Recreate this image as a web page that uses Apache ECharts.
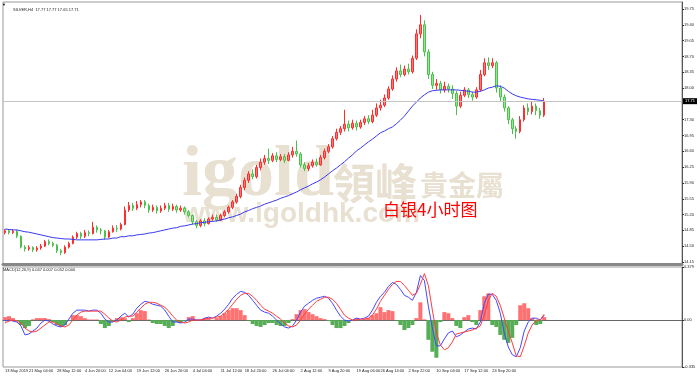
<!DOCTYPE html>
<html>
<head>
<meta charset="utf-8">
<script src="https://cdn.jsdelivr.net/npm/echarts@6/dist/echarts.min.js"></script>
<style>
html, body { margin: 0; padding: 0; background: #fff; }
#chart { width: 700px; height: 378px; }
</style>
</head>
<body>
<div id="chart"></div>
<script>
// K线: [开, 收, 低, 高]
const candles = [
  [14.80,14.84,14.76,14.88],[14.84,14.80,14.76,14.87],[14.80,14.83,14.77,14.88],[14.83,14.72,14.68,14.86],
  [14.72,14.48,14.45,14.74],[14.48,14.44,14.38,14.52],[14.44,14.47,14.40,14.52],[14.47,14.42,14.37,14.50],
  [14.42,14.46,14.38,14.50],[14.46,14.50,14.42,14.55],[14.50,14.60,14.48,14.64],[14.60,14.56,14.52,14.65],
  [14.56,14.52,14.48,14.60],[14.52,14.40,14.35,14.55],[14.40,14.36,14.30,14.44],[14.36,14.48,14.33,14.52],
  [14.48,14.56,14.45,14.60],[14.56,14.70,14.54,14.74],[14.70,14.78,14.66,14.82],[14.78,14.72,14.66,14.82],
  [14.72,14.80,14.68,14.86],[14.80,14.78,14.72,14.85],[14.78,14.92,14.76,15.04],[14.92,14.86,14.80,14.96],
  [14.86,14.84,14.76,14.90],[14.84,14.70,14.64,14.86],[14.70,14.82,14.68,14.86],[14.82,14.90,14.80,14.96],
  [14.90,14.88,14.82,14.97],[14.88,14.98,14.85,15.02],[14.98,15.30,14.96,15.38],[15.30,15.40,15.26,15.48],
  [15.40,15.34,15.28,15.46],[15.34,15.42,15.30,15.50],[15.42,15.48,15.36,15.52],[15.48,15.40,15.34,15.52],
  [15.40,15.30,15.24,15.44],[15.30,15.36,15.26,15.42],[15.36,15.28,15.22,15.40],[15.28,15.34,15.24,15.40],
  [15.34,15.40,15.30,15.46],[15.40,15.32,15.26,15.46],[15.32,15.38,15.28,15.44],[15.38,15.30,15.24,15.42],
  [15.30,15.34,15.26,15.40],[15.34,15.26,15.20,15.38],[15.26,15.18,15.14,15.30],[15.18,15.04,14.98,15.20],
  [15.04,14.96,14.90,15.08],[14.96,15.06,14.92,15.10],[15.06,15.00,14.94,15.12],[15.00,15.10,14.98,15.14],
  [15.10,15.14,15.06,15.20],[15.14,15.08,15.04,15.20],[15.08,15.18,15.06,15.22],[15.18,15.26,15.14,15.30],
  [15.26,15.36,15.22,15.40],[15.36,15.48,15.32,15.52],[15.48,15.60,15.44,15.66],[15.60,15.80,15.56,15.86],
  [15.80,15.96,15.74,16.02],[15.96,16.10,15.90,16.16],[16.10,16.04,15.98,16.20],[16.04,16.24,16.00,16.30],
  [16.24,16.36,16.18,16.44],[16.36,16.44,16.30,16.52],[16.44,16.40,16.32,16.66],[16.40,16.50,16.36,16.56],
  [16.50,16.42,16.36,16.58],[16.42,16.48,16.38,16.54],[16.48,16.40,16.34,16.54],[16.40,16.52,16.38,16.58],
  [16.52,16.60,16.46,16.70],[16.60,16.54,16.48,16.84],[16.54,16.30,16.24,16.58],[16.30,16.22,16.16,16.36],
  [16.22,16.28,16.16,16.34],[16.28,16.36,16.24,16.42],[16.36,16.30,16.26,16.44],[16.30,16.46,16.28,16.52],
  [16.46,16.60,16.42,16.66],[16.60,16.70,16.56,16.76],[16.70,16.88,16.66,16.94],[16.88,17.02,16.84,17.10],
  [17.02,17.10,16.96,17.16],[17.10,17.20,17.04,17.52],[17.20,17.12,17.04,17.28],[17.12,17.22,17.08,17.30],
  [17.22,17.14,17.06,17.28],[17.14,17.24,17.10,17.30],[17.24,17.32,17.18,17.38],[17.32,17.26,17.20,17.40],
  [17.26,17.40,17.22,17.52],[17.40,17.56,17.36,17.66],[17.56,17.62,17.50,17.74],[17.62,17.78,17.58,17.86],
  [17.78,17.98,17.74,18.04],[17.98,18.20,17.94,18.28],[18.20,18.38,18.14,18.46],[18.38,18.30,18.24,18.52],
  [18.30,18.42,18.26,18.50],[18.42,18.36,18.30,18.54],[18.36,18.66,18.32,18.72],[18.66,19.20,18.62,19.30],
  [19.20,19.40,19.10,19.62],[19.40,18.80,18.70,19.50],[18.80,18.30,18.20,18.86],[18.30,18.06,17.98,18.36],
  [18.06,18.10,17.96,18.20],[18.10,17.96,17.88,18.16],[17.96,18.04,17.90,18.14],[18.04,17.98,17.90,18.10],
  [17.98,17.88,17.76,18.06],[17.88,17.60,17.40,17.94],[17.60,17.84,17.56,17.92],[17.84,17.96,17.80,18.02],
  [17.96,17.86,17.78,18.00],[17.86,17.80,17.72,17.92],[17.80,17.96,17.76,18.02],[17.96,18.30,17.92,18.40],
  [18.30,18.56,18.26,18.66],[18.56,18.50,18.40,18.68],[18.50,18.56,18.44,18.66],[18.56,18.00,17.90,18.60],
  [18.00,17.80,17.70,18.06],[17.80,17.56,17.48,17.86],[17.56,17.30,17.20,17.60],[17.30,17.10,16.98,17.34],
  [17.10,17.04,16.88,17.16],[17.04,17.30,17.00,17.38],[17.30,17.56,17.26,17.62],[17.56,17.48,17.40,17.66],
  [17.48,17.60,17.42,17.70],[17.60,17.50,17.40,17.66],[17.50,17.40,17.32,17.56],[17.40,17.71,17.36,17.78]
];

// 均线
const maLine = [
  14.88,14.87,14.86,14.86,14.84,14.82,14.81,14.79,14.77,14.75,14.73,14.71,14.69,14.68,14.67,14.66,
  14.66,14.65,14.64,14.64,14.64,14.64,14.64,14.64,14.65,14.66,14.66,14.68,14.68,14.71,14.71,14.73,
  14.73,14.75,14.76,14.77,14.79,14.80,14.82,14.84,14.86,14.88,14.90,14.91,14.94,14.95,14.97,14.99,
  15.00,15.02,15.03,15.04,15.05,15.06,15.08,15.10,15.13,15.15,15.18,15.21,15.26,15.29,15.33,15.36,
  15.39,15.43,15.46,15.49,15.52,15.56,15.59,15.62,15.66,15.70,15.75,15.79,15.83,15.88,15.92,15.97,
  16.03,16.10,16.17,16.23,16.30,16.37,16.45,16.52,16.61,16.67,16.74,16.81,16.87,16.94,17.01,17.05,
  17.10,17.14,17.21,17.29,17.38,17.49,17.60,17.69,17.78,17.85,17.91,17.94,17.95,17.96,17.96,17.96,
  17.96,17.96,17.95,17.94,17.93,17.91,17.91,17.93,17.96,18.00,18.02,18.05,18.04,18.00,17.93,17.87,
  17.83,17.80,17.78,17.76,17.75,17.74,17.73,17.71
];

// MACD 蓝线
const difLine = [
  -0.007,0,-0.007,-0.014,-0.042,-0.106,-0.099,-0.078,-0.057,-0.021,0,-0.007,-0.028,-0.042,-0.049,-0.035,
  0.007,0.049,0.071,0.071,0.071,0.064,0.071,0.071,0.049,0.007,-0.014,-0.014,0,0.028,0.049,0.021,
  0.042,0.085,0.113,0.134,0.127,0.113,0.106,0.099,0.071,0.028,-0.014,-0.014,-0.021,-0.014,0.007,0.007,
  0,0,0.014,0.021,0.014,0.028,0.049,0.078,0.113,0.156,0.184,0.205,0.198,0.177,0.141,0.106,
  0.071,0.057,0.049,0.028,0,-0.028,-0.049,-0.057,-0.042,0,0.057,0.099,0.120,0.141,0.156,0.163,
  0.170,0.156,0.120,0.071,0.028,0,-0.007,0,0.014,0.007,0.014,0.028,0.071,0.127,0.170,0.198,
  0.240,0.269,0.255,0.219,0.177,0.163,0.141,0.198,0.318,0.283,0.099,-0.057,-0.184,-0.184,-0.134,-0.092,
  -0.078,-0.120,-0.106,-0.085,-0.064,-0.057,-0.064,-0.014,0.120,0.184,0.184,0.141,0.049,-0.092,-0.191,-0.247,
  -0.262,-0.198,-0.078,-0.014,0.014,0.014,0,0.035
];

// MACD 红线
const deaLine = [
  -0.021,-0.007,0,-0.007,-0.021,-0.057,-0.078,-0.085,-0.078,-0.057,-0.035,-0.014,-0.014,-0.028,-0.042,-0.049,
  -0.035,0,0.035,0.057,0.064,0.064,0.064,0.064,0.064,0.042,0.014,-0.007,-0.014,0,0.021,0.028,
  0.028,0.057,0.085,0.113,0.127,0.127,0.120,0.106,0.092,0.064,0.028,0,-0.014,-0.021,-0.014,0,
  0,0,0.007,0.014,0.014,0.021,0.028,0.049,0.078,0.113,0.148,0.177,0.191,0.191,0.170,0.141,
  0.106,0.078,0.064,0.049,0.028,0.007,-0.021,-0.042,-0.049,-0.035,0,0.042,0.078,0.106,0.134,0.148,
  0.163,0.163,0.148,0.120,0.078,0.035,0.014,0,0,0.007,0.007,0.014,0.035,0.078,0.134,0.177,
  0.219,0.255,0.276,0.276,0.247,0.212,0.177,0.191,0.255,0.332,0.247,0.071,-0.092,-0.177,-0.212,-0.198,
  -0.156,-0.099,-0.092,-0.085,-0.078,-0.071,-0.057,-0.042,0.035,0.141,0.191,0.170,0.106,0.014,-0.078,-0.163,
  -0.255,-0.262,-0.184,-0.092,-0.035,0,0,0.042
];

// MACD 柱
const macdHist = [
  0.021,0.028,0.014,-0.007,-0.035,-0.057,-0.042,0.005,0.014,0.014,0.014,0.007,-0.014,-0.035,-0.049,-0.035,
  -0.004,0.035,0.035,0.028,0.014,0.004,0.004,0.004,-0.028,-0.057,-0.042,-0.014,0.014,0.021,0.014,-0.014,
  0.014,0.049,0.071,0.064,0.004,-0.021,-0.028,-0.028,-0.042,-0.057,-0.042,-0.014,-0.021,-0.007,0.021,0.028,
  0.004,0.004,0.014,0.014,0.002,0.014,0.028,0.049,0.071,0.085,0.085,0.071,0.035,-0.004,-0.028,-0.042,
  -0.049,-0.035,-0.021,-0.021,-0.035,-0.042,-0.042,-0.021,0.007,0.042,0.071,0.078,0.057,0.042,0.028,0.014,
  0.007,-0.007,-0.035,-0.057,-0.057,-0.042,-0.021,0.002,0.014,-0.002,0.007,0.014,0.035,0.049,0.092,0.057,
  0.071,0.064,-0.003,-0.035,-0.071,-0.057,-0.035,0.014,0.127,0.005,-0.141,-0.226,-0.269,-0.014,0.057,0.049,
  0.014,-0.042,-0.057,0.021,0.035,-0.014,-0.035,0.071,0.170,0.191,-0.035,-0.049,-0.106,-0.141,-0.163,-0.127,
  -0.035,0.106,0.120,0.085,0.014,-0.035,-0.028,0.021
];

const timeLabels = ['13 May 2019','21 May 04:00','28 May 12:00','4 Jun 20:00','12 Jun 04:00','19 Jun 12:00',
  '26 Jun 20:00','4 Jul 04:00','11 Jul 12:00','18 Jul 20:00','26 Jul 04:00','2 Aug 12:00','9 Aug 20:00',
  '19 Aug 06:00','26 Aug 14:00','2 Sep 22:00','10 Sep 04:00','17 Sep 12:00','24 Sep 20:00','2 Oct 04:00'];
const labelIdx = [0,6,13,20,26,33,40,47,54,60,67,74,81,88,94,101,108,115,122,129];
const priceTicks = [19.75,19.40,19.05,18.70,18.35,18.00,17.30,16.95,16.60,16.25,15.90,15.55,15.20,14.85,14.50,14.15];
const macdTicks = [0.379, 0, -0.335];
const lastPrice = 17.71;
const totalBars = 170;

const categories = [];
for (let i = 0; i < totalBars; i++) {
  const k = labelIdx.indexOf(i);
  categories.push(k >= 0 ? timeLabels[k] : '');
}

const smallFont = { fontSize: 4, fontFamily: 'Liberation Sans', color: '#222' };

const chart = echarts.init(document.getElementById('chart'));
chart.setOption({
  animation: false,
  backgroundColor: '#fff',
  title: {
    text: 'SILVER,H4  17.77 17.77 17.65 17.71',
    left: 8, top: 3,
    textStyle: { fontSize: 4, fontWeight: 'normal', fontFamily: 'Liberation Sans', color: '#222' }
  },
  graphic: [
    { type: 'text', x: 2, y: 3, style: { text: '▼', fontSize: 4, fill: '#000' } },
    { type: 'text', x: 3, y: 268, style: { text: 'MACD(12,26,9) 0.047 0.007 0.052 0.000', fontSize: 4, fontFamily: 'Liberation Sans', fill: '#222' } },
    { type: 'text', x: 182, y: 176, z: 0, style: { text: 'igold', font: 'bold 72px "Liberation Serif"', fill: '#e8e0d0', verticalAlign: 'middle' } },
    { type: 'text', x: 333, y: 183, z: 0, style: { text: '領峰', font: 'bold 42px "Noto Sans CJK TC"', fill: '#e8e0d0', verticalAlign: 'middle' } },
    { type: 'text', x: 420, y: 185, z: 0, style: { text: '貴金屬', font: 'bold 28px "Noto Sans CJK TC"', fill: '#e8e0d0', verticalAlign: 'middle' } },
    { type: 'text', x: 183, y: 214, z: 0, style: { text: 'www.igoldhk.com', font: 'bold 28px "Liberation Sans"', fill: '#e8e0d0', verticalAlign: 'middle' } },
    { type: 'text', x: 383, y: 210, z: 100, style: { text: '白银4小时图', font: '17px "Noto Sans CJK SC"', fill: '#ff0000', verticalAlign: 'middle' } }
  ],
  grid: [
    { left: 3, right: 18, top: 2, height: 262, show: true, borderColor: '#999', borderWidth: 1 },
    { left: 3, right: 18, top: 267, bottom: 11, show: true, borderColor: '#999', borderWidth: 1 }
  ],
  xAxis: [
    {
      type: 'category', gridIndex: 0, data: categories,
      axisLine: { lineStyle: { color: '#888', width: 3 } },
      axisTick: { show: false }, axisLabel: { show: false }
    },
    {
      type: 'category', gridIndex: 1, data: categories,
      axisLine: { lineStyle: { color: '#666', width: 1 } },
      axisTick: { length: 2, lineStyle: { color: '#333' }, interval: (i) => labelIdx.includes(i) },
      axisLabel: Object.assign({
        interval: (i) => labelIdx.includes(i), align: 'left', margin: 2,
        showMinLabel: true, showMaxLabel: false, hideOverlap: false
      }, smallFont)
    }
  ],
  yAxis: [
    {
      type: 'value', gridIndex: 0, position: 'right', min: 14.106, max: 19.905, scale: true,
      splitLine: { show: false },
      axisLine: { show: true, lineStyle: { color: '#555' } },
      axisTick: { show: true, length: 2, customValues: priceTicks, lineStyle: { color: '#333' } },
      axisLabel: Object.assign({ customValues: priceTicks, margin: 2, formatter: (v) => v.toFixed(2) }, smallFont)
    },
    {
      type: 'value', gridIndex: 1, position: 'right', min: -0.335, max: 0.379,
      splitLine: { show: false },
      axisLine: { show: true, lineStyle: { color: '#555' } },
      axisTick: { show: true, length: 2, customValues: macdTicks, lineStyle: { color: '#333' } },
      axisLabel: Object.assign({ customValues: macdTicks, margin: 2, formatter: (v) => (v === 0 ? '0.00' : String(v)) }, smallFont)
    }
  ],
  series: [
    {
      name: 'SILVER', type: 'candlestick', xAxisIndex: 0, yAxisIndex: 0, data: candles,
      barWidth: 2, z: 3,
      itemStyle: { color: '#ff7a7a', color0: '#9be39b', borderColor: '#ff2e2e', borderColor0: '#4cc04c', borderWidth: 1 },
      markLine: {
        silent: true, symbol: ['none', 'none'],
        lineStyle: { color: '#c4c4c4', type: 'solid', width: 1 },
        label: {
          position: 'end', formatter: lastPrice.toFixed(2), backgroundColor: '#000', color: '#fff',
          fontSize: 4, fontFamily: 'Liberation Sans', padding: [1, 2], distance: 1
        },
        data: [{ yAxis: lastPrice }]
      }
    },
    {
      name: 'MA', type: 'line', xAxisIndex: 0, yAxisIndex: 0, data: maLine,
      symbol: 'none', z: 4, lineStyle: { color: '#3a3af2', width: 1 }
    },
    {
      name: 'MACD柱', type: 'bar', xAxisIndex: 1, yAxisIndex: 1, data: macdHist,
      barWidth: 4, z: 2,
      itemStyle: { color: (p) => (p.value >= 0 ? '#ff7070' : '#55ad55') }
    },
    {
      name: 'DIF', type: 'line', xAxisIndex: 1, yAxisIndex: 1, data: difLine,
      symbol: 'none', z: 4, lineStyle: { color: '#4646ff', width: 1 }
    },
    {
      name: 'DEA', type: 'line', xAxisIndex: 1, yAxisIndex: 1, data: deaLine,
      symbol: 'none', z: 4, lineStyle: { color: '#ff3c3c', width: 1 }
    }
  ]
});

window.addEventListener('resize', () => {
  chart.resize();
});
</script>
</body>
</html>
